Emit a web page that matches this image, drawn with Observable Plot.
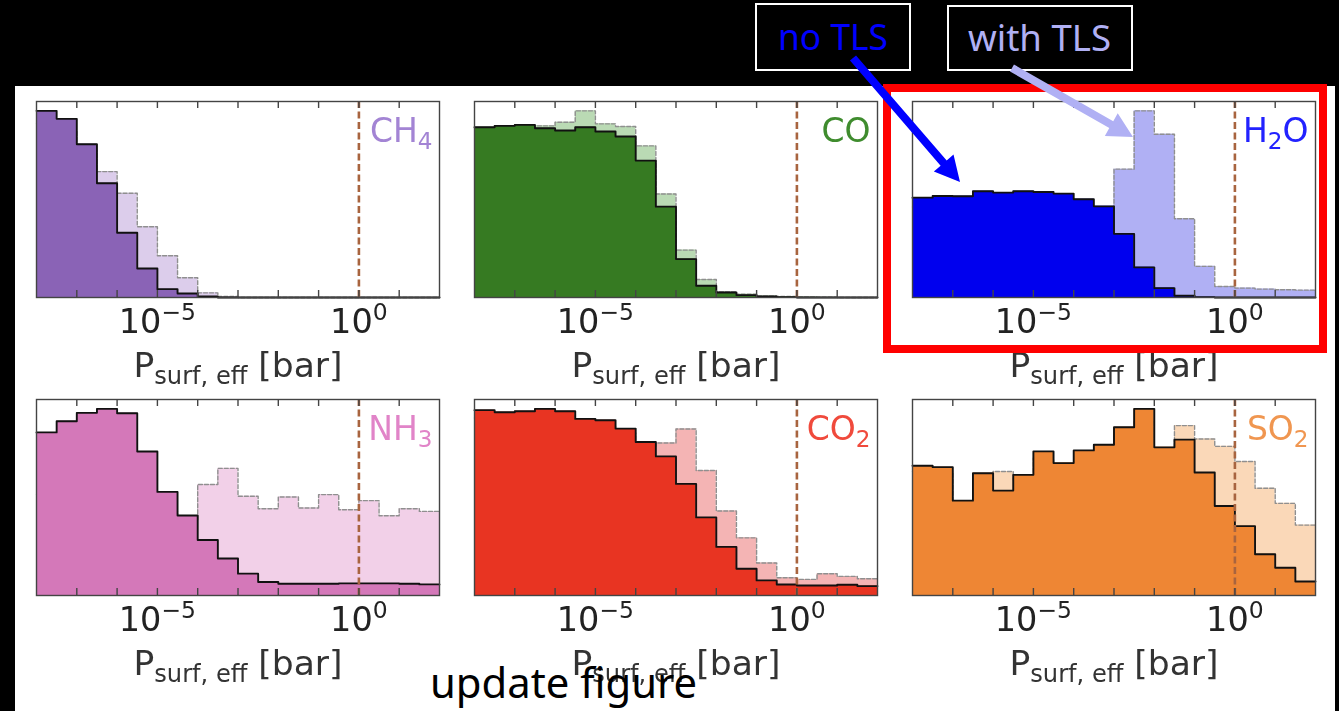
<!DOCTYPE html>
<html>
<head>
<meta charset="utf-8">
<script src="https://cdn.jsdelivr.net/npm/d3@7"></script>
<script src="https://cdn.jsdelivr.net/npm/@observablehq/plot@0.6"></script>
<style>
  body { margin: 0; background: #000; }
  #fig { position: relative; width: 1339px; height: 711px; background: #000; overflow: hidden; }
  #sheet { position: absolute; left: 15px; top: 86px; width: 1320px; height: 625px; background: #fff; }
  .panel { position: absolute; }
  .panel svg { filter: blur(0.45px); overflow: visible; }
  #notes { position: absolute; left: 0; top: 0; pointer-events: none; }
</style>
</head>
<body>
<div id="fig"><div id="sheet"></div></div>
<script>
// Histogram bins: log10 of the edges of the effective surface pressure bins [bar]
const binExponents = [-8, -7.5, -7, -6.5, -6, -5.5, -5, -4.5, -4, -3.5, -3, -2.5, -2, -1.5, -1, -0.5, 0, 0.5, 1, 1.5, 2];
const decadeTicks = [1e-7, 1e-6, 1e-5, 1e-4, 1e-3, 1e-2, 1e-1, 1, 10];
const tickLabelValues = [1e-5, 1];
const tickLabels = ["10^{\u22125}", "10^{0}"];
const axisLabel = "P_{surf, eff} [bar]";
const referencePressure = 1; // 1 bar

// Species (panel order) and their labels
const speciesLabels = ["CH_{4}", "CO", "H_{2}O", "NH_{3}", "CO_{2}", "SO_{2}"];

// Counts per bin, without and with TLS
const ch4NoTLS   = [559, 535, 459, 342, 194, 87, 25, 12, 3, 0, 0, 0, 0, 0, 0, 0, 0, 0, 0, 0];
const ch4WithTLS = [520, 500, 440, 377, 312, 212, 125, 59, 14, 3, 0, 0, 0, 0, 0, 0, 0, 0, 0, 0];
const coNoTLS    = [510, 514, 517, 507, 500, 510, 497, 482, 410, 272, 115, 35, 15, 7, 3, 1, 0, 0, 0, 0];
const coWithTLS  = [505, 508, 512, 514, 525, 559, 520, 512, 454, 310, 142, 54, 17, 10, 5, 3, 2, 1, 0, 0];
const h2oNoTLS   = [298, 303, 302, 317, 313, 317, 315, 310, 293, 272, 190, 90, 28, 5, 1, 0, 0, 0, 0, 0];
const h2oWithTLS = [270, 275, 275, 285, 285, 285, 285, 280, 270, 260, 383, 557, 487, 235, 93, 33, 28, 25, 23, 22];
const nh3NoTLS   = [485, 518, 543, 555, 542, 428, 308, 238, 165, 110, 65, 40, 35, 35, 35, 36, 36, 36, 35, 33];
const nh3WithTLS = [300, 310, 320, 330, 320, 290, 250, 220, 330, 378, 295, 258, 293, 260, 300, 255, 282, 237, 258, 250];
const co2NoTLS   = [553, 547, 550, 557, 550, 527, 523, 498, 458, 415, 333, 233, 145, 80, 45, 33, 30, 30, 32, 28];
const co2WithTLS = [530, 530, 535, 540, 535, 515, 505, 485, 445, 455, 497, 373, 252, 172, 97, 53, 48, 65, 57, 50];
const so2NoTLS   = [387, 383, 283, 365, 313, 360, 430, 395, 433, 450, 502, 557, 442, 465, 367, 267, 207, 123, 83, 42];
const so2WithTLS = [370, 370, 270, 350, 370, 345, 410, 380, 415, 430, 480, 520, 430, 507, 467, 445, 400, 320, 275, 210];

// Colours per species
const darkColors  = ["#8a63b6", "#367a22", "#0000ee", "#d478b9", "#e83422", "#ee8634"];
const lightColors = ["#dccdeb", "#badab4", "#b0b0f4", "#f2d0e8", "#f4b4b4", "#fad8b8"];
const labelColors = ["#a384d4", "#3f8c2e", "#2222ff", "#e184c8", "#f04a3c", "#f09650"];

const noTLSSeries   = [ch4NoTLS, coNoTLS, h2oNoTLS, nh3NoTLS, co2NoTLS, so2NoTLS];
const withTLSSeries = [ch4WithTLS, coWithTLS, h2oWithTLS, nh3WithTLS, co2WithTLS, so2WithTLS];

// Layout of the 2 x 3 grid (frame positions in page pixels)
const colLefts = [36, 474, 912];
const rowTops = [101, 399];
const W = 403, H = 196;
const ML = 20, MR = 20, MT = 12, MB = 92;

const svgNS = "http://www.w3.org/2000/svg";

// Turn "A_{b}" / "A^{b}" markup into tspans with sub/superscripts
function richText(node) {
  const s = node.textContent;
  if (!/[_^]\{/.test(s)) return;
  const fs = parseFloat(getComputedStyle(node).fontSize);
  const re = /([_^])\{([^}]*)\}/g;
  node.textContent = "";
  let last = 0, m, shift = 0;
  const add = (str, kind) => {
    const t = document.createElementNS(svgNS, "tspan");
    t.textContent = str;
    const target = kind === "sub" ? 0.22 * fs : kind === "sup" ? -0.38 * fs : 0;
    const dy = target - shift;
    if (dy) t.setAttribute("dy", dy);
    shift = target;
    if (kind) t.setAttribute("font-size", 0.7 * fs);
    node.appendChild(t);
  };
  while ((m = re.exec(s))) {
    if (m.index > last) add(s.slice(last, m.index), null);
    add(m[2], m[1] === "_" ? "sub" : "sup");
    last = re.lastIndex;
  }
  if (last < s.length) add(s.slice(last), null);
}

function steps(values) {
  const pts = values.map((v, i) => ({x: 10 ** binExponents[i], y: v}));
  pts.push({x: 10 ** binExponents[values.length], y: values[values.length - 1]});
  return pts;
}

const fig = document.getElementById("fig");

speciesLabels.forEach((label, k) => {
  const col = k % 3, row = Math.floor(k / 3);
  const noPts = steps(noTLSSeries[k]);
  const withPts = steps(withTLSSeries[k]);
  const ymax = 1.05 * d3.max([...noTLSSeries[k], ...withTLSSeries[k]]);

  const chart = Plot.plot({
    width: W + ML + MR,
    height: H + MT + MB,
    marginLeft: ML, marginRight: MR, marginTop: MT, marginBottom: MB,
    style: {background: "transparent", fontFamily: "DejaVu Sans"},
    x: {type: "log", domain: [10 ** binExponents[0], 10 ** binExponents[binExponents.length - 1]], axis: null},
    y: {domain: [0, ymax], axis: null},
    marks: [
      Plot.areaY(withPts, {x: "x", y: "y", curve: "step-after", fill: lightColors[k]}),
      Plot.lineY(withPts, {x: "x", y: "y", curve: "step-after", stroke: "#8f8f8f", strokeWidth: 1.4, strokeDasharray: "4,2"}),
      Plot.areaY(noPts, {x: "x", y: "y", curve: "step-after", fill: darkColors[k]}),
      Plot.lineY(noPts, {x: "x", y: "y", curve: "step-after", stroke: "#111", strokeWidth: 1.9}),
      Plot.ruleX([referencePressure], {stroke: "#a8643f", strokeWidth: 2.6, strokeDasharray: "7,3.5"}),
      Plot.tickX(decadeTicks, {x: d => d, insetTop: H - 7, stroke: "#444", strokeWidth: 1.4}),
      Plot.tickX(decadeTicks, {x: d => d, insetBottom: H - 7, stroke: "#444", strokeWidth: 1.4}),
      Plot.frame({stroke: "#444", strokeWidth: 1.4}),
      Plot.text([label], {frameAnchor: "top-right", textAnchor: "end", lineAnchor: "middle", dx: -7, dy: 30, fontSize: 33, fill: labelColors[k]}),
      Plot.text(tickLabelValues, {x: d => d, text: (d, i) => tickLabels[i], frameAnchor: "bottom", lineAnchor: "middle", dy: 24.5, fontSize: 33.5, fill: "#222"}),
      Plot.text([axisLabel], {frameAnchor: "bottom", lineAnchor: "middle", dy: 68, fontSize: 34.5, fill: "#333"})
    ]
  });

  const holder = document.createElement("div");
  holder.className = "panel";
  holder.style.left = (colLefts[col] - ML) + "px";
  holder.style.top = (rowTops[row] - MT) + "px";
  holder.appendChild(chart);
  fig.appendChild(holder);

  chart.querySelectorAll("text").forEach(richText);
});

// Annotations: highlight box, callout labels and arrows, note
const notes = d3.select(fig).append("svg")
  .attr("id", "notes").attr("width", 1339).attr("height", 711);

notes.append("rect")
  .attr("x", 887).attr("y", 88).attr("width", 436).attr("height", 261)
  .attr("fill", "none").attr("stroke", "#ff0000").attr("stroke-width", 8);

function arrow(x0, y0, x1, y1, color) {
  const dx = x1 - x0, dy = y1 - y0, len = Math.hypot(dx, dy);
  const ux = dx / len, uy = dy / len, nx = -uy, ny = ux;
  const sw = 4, hl = 25, hw = 13;
  const bx = x1 - ux * hl, by = y1 - uy * hl;
  const pts = [
    [x0 + nx * sw, y0 + ny * sw], [bx + nx * sw, by + ny * sw], [bx + nx * hw, by + ny * hw],
    [x1, y1],
    [bx - nx * hw, by - ny * hw], [bx - nx * sw, by - ny * sw], [x0 - nx * sw, y0 - ny * sw]
  ];
  notes.append("polygon").attr("points", pts.map(p => p.join(",")).join(" ")).attr("fill", color);
}

function callout(x, y, w, h, text, tx, baseline, tw, color) {
  notes.append("rect").attr("x", x).attr("y", y).attr("width", w).attr("height", h)
    .attr("fill", "#000").attr("stroke", "#fff").attr("stroke-width", 2);
  notes.append("text").attr("x", tx).attr("y", baseline)
    .attr("font-family", "Noto Sans").attr("font-size", 36).attr("fill", color)
    .attr("textLength", tw).attr("lengthAdjust", "spacingAndGlyphs").text(text);
}

callout(756, 4, 154, 66, "no TLS", 778, 50, 110, "#0000ff");
callout(948, 6, 184, 64, "with TLS", 968, 51, 143, "#b0b0f4");
arrow(1012, 68, 1133, 137, "#b0b0f4");
arrow(853, 58, 960, 182, "#0000ff");

notes.append("text").attr("x", 430).attr("y", 698)
  .attr("font-family", "Noto Sans").attr("font-size", 42).attr("fill", "#000")
  .attr("textLength", 267).attr("lengthAdjust", "spacingAndGlyphs").text("update figure");
</script>
</body>
</html>
